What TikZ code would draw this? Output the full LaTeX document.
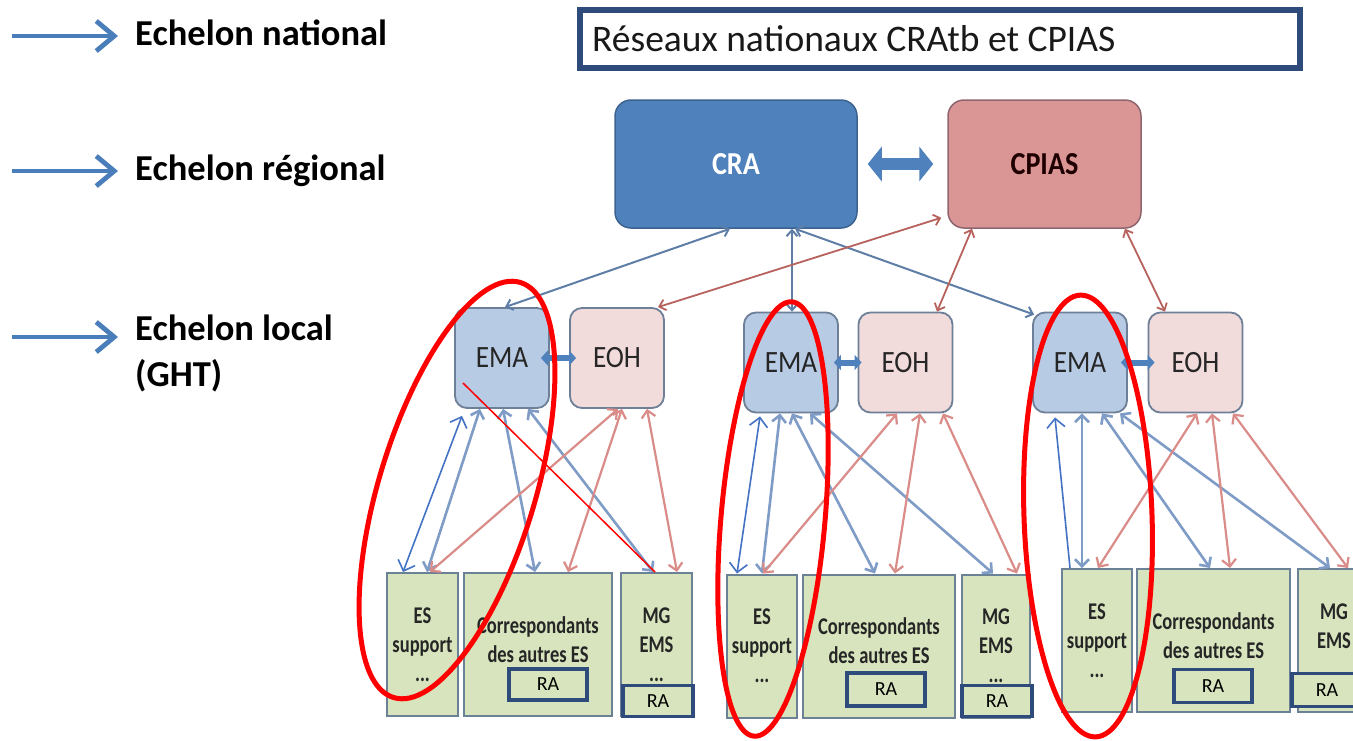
\documentclass[tikz,border=0pt]{standalone}
\usepackage{fontspec}
\setmainfont{Carlito}
\newfontfamily\condfont[FakeStretch=0.77]{Carlito}
\newfontfamily\semicond[FakeStretch=0.88]{Carlito}
\usetikzlibrary{arrows.meta,calc}
\definecolor{lvlblue}{HTML}{4A7EBB}
\definecolor{navy}{HTML}{2F4B7C}
\definecolor{crablue}{HTML}{4F81BD}
\definecolor{craborder}{HTML}{3C6290}
\definecolor{cpiasfill}{HTML}{D99694}
\definecolor{cpiasborder}{HTML}{8E6670}
\definecolor{emafill}{HTML}{B7CBE4}
\definecolor{eohfill}{HTML}{F2DCDB}
\definecolor{smallborder}{HTML}{6E7F98}
\definecolor{greenfill}{HTML}{D7E4BD}
\definecolor{greenborder}{HTML}{6A8196}
\definecolor{fadeblue}{HTML}{7F9CC6}
\definecolor{fadered}{HTML}{D98C88}
\definecolor{topblue}{HTML}{5E7EA8}
\definecolor{topred}{HTML}{B8625E}
\definecolor{thinblue}{HTML}{4472C4}
\begin{document}
\begin{tikzpicture}[x=1pt,y=-1pt,
  lbl/.style={anchor=base west, inner sep=0pt, font=\fontsize{36.5}{40}\selectfont\bfseries, text=black},
  lvlarrow/.style={draw=lvlblue, line width=4.8pt, -{Straight Barb[length=18pt,width=30pt]}},
  natbox/.style={draw=navy, line width=6pt, fill=white, minimum width=720pt, minimum height=58pt},
  nattext/.style={anchor=west, inner sep=0pt, font=\fontsize{37.5}{40}\selectfont, text=black!90},
  bigbox/.style={rounded corners=16pt, line width=1.5pt, minimum height=128pt, font=\semicond\bfseries\fontsize{32}{36}\selectfont},
  smallbox/.style={rounded corners=12pt, line width=1.8pt, draw=smallborder, minimum width=94pt, minimum height=100pt, font=\semicond\fontsize{31}{34}\selectfont, text=black!85},
  ema/.style={smallbox, fill=emafill},
  eoh/.style={smallbox, fill=eohfill},
  gbox/.style={draw=greenborder, fill=greenfill, line width=2pt, minimum height=143pt, align=center, inner sep=0pt, font=\condfont\bfseries\fontsize{24}{29}\selectfont, text=black!85},
  rabox/.style={draw=navy, line width=3.5pt, fill=greenfill, minimum height=31pt, inner sep=0pt, font=\fontsize{20}{22}\selectfont, text=black},
  fb/.style={draw=fadeblue, line width=2.6pt, {Straight Barb[length=7pt,width=14pt]}-{Straight Barb[length=7pt,width=14pt]}},
  fr/.style={draw=fadered, line width=2.2pt, {Straight Barb[length=7pt,width=14pt]}-{Straight Barb[length=7pt,width=14pt]}},
  tb/.style={draw=topblue, line width=2pt, {Straight Barb[length=6pt,width=11pt]}-{Straight Barb[length=6pt,width=11pt]}},
  tr/.style={draw=topred, line width=1.8pt, {Straight Barb[length=6pt,width=11pt]}-{Straight Barb[length=6pt,width=11pt]}},
  thinarrow/.style={draw=thinblue, line width=1.6pt},
  mini/.style={draw=crablue, line width=6pt, {Triangle[length=7pt,width=15pt]}-{Triangle[length=7pt,width=15pt]}},
  redell/.style={draw=red, line width=5pt}
]
\useasboundingbox (0,0) rectangle (1353,740);
\clip (0,0) rectangle (1353,740);
\fill[white] (0,0) rectangle (1353,740);

% level labels
\node[lbl] (l1) at (135,45) {Echelon national};
\node[lbl] (l2) at (135,180) {Echelon régional};
\node[lbl] (l3) at (135,340) {Echelon local};
\node[lbl] (l3b) at (135,386) {(GHT)};
\coordinate (s1) at (12,36);  \coordinate (e1) at (118,36);
\coordinate (s2) at (12,171); \coordinate (e2) at (118,171);
\coordinate (s3) at (12,337); \coordinate (e3) at (118,337);
\draw[lvlarrow] (s1) -- (e1);
\draw[lvlarrow] (s2) -- (e2);
\draw[lvlarrow] (s3) -- (e3);

% national
\node[natbox] (nat) at (940,39) {};
\node[nattext] (natt) at ([xshift=15pt]nat.west) {Réseaux nationaux CRAtb et CPIAS};

% regional
\node[bigbox, fill=crablue, draw=craborder, minimum width=242pt, text=white] (cra) at (736,164) {CRA};
\node[bigbox, fill=cpiasfill, draw=cpiasborder, minimum width=193pt, text=black!80!red!60!black] (cpias) at (1044.5,164) {CPIAS};
\draw[draw=crablue, line width=12pt, {Triangle[length=14pt,width=34pt]}-{Triangle[length=14pt,width=34pt]}] ([xshift=10pt]cra.east) -- ([xshift=-14pt]cpias.west);

% local
\node[ema] (ema1) at (502,358) {EMA};
\node[eoh] (eoh1) at (617,358) {EOH};
\node[ema] (ema2) at (791,362.5) {EMA};
\node[eoh] (eoh2) at (905.5,362.5) {EOH};
\node[ema] (ema3) at (1080,362.5) {EMA};
\node[eoh] (eoh3) at (1195.5,362.5) {EOH};
\draw[mini] ([xshift=-9pt]ema1.east) -- ([xshift=7pt]eoh1.west);
\draw[mini] ([xshift=-5pt]ema2.east) -- ([xshift=4pt]eoh2.west);
\draw[mini] ([xshift=-7pt]ema3.east) -- ([xshift=7pt]eoh3.west);

% top connectors
\draw[tb] ([xshift=-6pt]cra.south) -- ([xshift=3pt]ema1.north);
\draw[tb] ([xshift=56pt]cra.south) -- ([xshift=1pt]ema2.north);
\draw[tb] ([xshift=59pt]cra.south) -- ([xshift=2pt,yshift=-3pt]ema3.north west);
\draw[tr] ([xshift=-6pt,yshift=11pt]cpias.south west) -- ([xshift=41pt]eoh1.north);
\draw[tr] ([xshift=-72.5pt]cpias.south) -- ([xshift=31.5pt]eoh2.north);
\draw[tr] ([xshift=80.5pt]cpias.south) -- ([xshift=-30.5pt]eoh3.north);

% bottom boxes
\node[gbox, minimum width=71pt] (es1) at (422.5,644.5) {ES\\support\\...};
\node[gbox, minimum width=148pt] (co1) at (538,644.5) {Correspondants\\des autres ES\\[-19pt]\mbox{}};
\node[gbox, minimum width=71pt] (mg1) at (656.5,644.5) {MG\\EMS\\...};
\node[gbox, minimum width=70pt] (es2) at (762,646) {ES\\support\\...};
\node[gbox, minimum width=152pt] (co2) at (879,646) {Correspondants\\des autres ES\\[-19pt]\mbox{}};
\node[gbox, minimum width=68pt] (mg2) at (996,646) {MG\\EMS\\...};
\node[gbox, minimum width=70pt] (es3) at (1097,640.5) {ES\\support\\...};
\node[gbox, minimum width=153pt] (co3) at (1213.5,640.5) {Correspondants\\des autres ES\\[-19pt]\mbox{}};
\node[gbox, minimum width=72pt] (mg3) at (1334,640.5) {MG\\EMS\\...};
\node[rabox, minimum width=78pt] (ra1a) at (548,684.5) {RA};
\node[rabox, minimum width=70pt] (ra1b) at (658,701) {RA};
\node[rabox, minimum width=78pt, minimum height=33pt] (ra2a) at (886,689.5) {RA};
\node[rabox, minimum width=70pt] (ra2b) at (997,701) {RA};
\node[rabox, minimum width=78pt, minimum height=33pt] (ra3a) at (1213,686) {RA};
\node[rabox, minimum width=70pt, minimum height=33pt] (ra3b) at (1327,690) {RA};

% faded connectors group 1
\draw[fb] ([xshift=-22pt]ema1.south) -- ([xshift=4.5pt]es1.north);
\draw[fb] ([xshift=1pt]ema1.south) -- ([xshift=-3pt]co1.north);
\draw[fb] ([xshift=26pt]ema1.south) -- ([xshift=-3.5pt]mg1.north);
\draw[fr] ([xshift=1pt]eoh1.south) -- ([xshift=7.5pt]es1.north);
\draw[fr] ([xshift=5pt]eoh1.south) -- ([xshift=30pt]co1.north);
\draw[fr] ([xshift=30pt]eoh1.south) -- ([xshift=20.5pt]mg1.north);
% group 2
\draw[fb] ([xshift=-11pt]ema2.south) -- ([xshift=0pt]es2.north);
\draw[fb] ([xshift=1pt]ema2.south) -- ([xshift=-4pt]co2.north);
\draw[fb] ([xshift=19pt]ema2.south) -- ([xshift=-3pt]mg2.north);
\draw[fr] ([xshift=-8.5pt]eoh2.south) -- ([xshift=1pt]es2.north);
\draw[fr] ([xshift=14.5pt]eoh2.south) -- ([xshift=16pt]co2.north);
\draw[fr] ([xshift=37.5pt]eoh2.south) -- ([xshift=21pt]mg2.north);
% group 3
\draw[fb] ([xshift=2pt]ema3.south) -- ([xshift=-15pt]es3.north);
\draw[fb] ([xshift=22pt]ema3.south) -- ([xshift=-3.5pt]co3.north);
\draw[fb] ([xshift=40pt]ema3.south) -- ([xshift=-4pt]mg3.north);
\draw[fr] ([xshift=1.5pt]eoh3.south) -- ([xshift=1pt]es3.north);
\draw[fr] ([xshift=16.5pt]eoh3.south) -- ([xshift=16.5pt]co3.north);
\draw[fr] ([xshift=37.5pt]eoh3.south) -- ([xshift=14pt]mg3.north);

% thin blue arrows
\draw[thinarrow, {Straight Barb[length=9pt,width=18pt]}-{Straight Barb[length=9pt,width=18pt]}] ([xshift=-19.5pt]es1.north) -- ([xshift=-40pt,yshift=-7pt]ema1.south);
\draw[thinarrow, {Straight Barb[length=9pt,width=18pt]}-{Straight Barb[length=9pt,width=18pt]}] ([xshift=-25pt]es2.north) -- ([xshift=-31pt,yshift=-3pt]ema2.south);
\draw[thinarrow, -{Straight Barb[length=9pt,width=18pt]}] ([xshift=-27pt]es3.north) -- ([xshift=-25pt,yshift=-4pt]ema3.south);

% red thin line
\draw[red, line width=1.5pt] ([xshift=-39pt,yshift=-25pt]ema1.center) -- ([xshift=-1.5pt]mg1.north);

% red ellipses
\draw[redell, rotate around={-17:(457,490)}] (457,490) ellipse [x radius=78pt, y radius=217pt];
\draw[redell, rotate around={-5:(773,519)}] (773,519) ellipse [x radius=52pt, y radius=218pt];
\draw[redell, rotate around={2:(1088,516)}] (1088,516) ellipse [x radius=64pt, y radius=221pt];
\end{tikzpicture}
\end{document}
